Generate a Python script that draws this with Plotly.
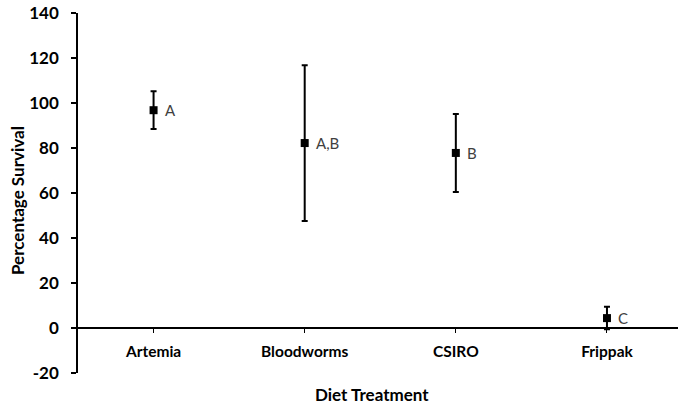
import plotly.graph_objects as go

# Survival by diet treatment (mean ± error) with significance groups
diets = ["Artemia", "Bloodworms", "CSIRO", "Frippak"]
survival = [96.8, 82.2, 77.8, 4.4]
error = [8.4, 34.6, 17.3, 5.0]
groups = ["A", "A,B", "B", "C"]

y_ticks = [-20, 0, 20, 40, 60, 80, 100, 120, 140]

FONT = "Lato, 'Open Sans', sans-serif"
BLACK = "#000000"
x_pos = list(range(len(diets)))

fig = go.Figure()
fig.add_trace(go.Scatter(
    x=x_pos, y=survival, mode="markers",
    marker=dict(symbol="square", size=8, color=BLACK),
    error_y=dict(type="data", array=error, visible=True,
                 color=BLACK, thickness=2, width=3),
    showlegend=False, hoverinfo="skip",
))

for xi, yi, g in zip(x_pos, survival, groups):
    fig.add_annotation(x=xi, y=yi, text=g, showarrow=False,
                       xanchor="left", yanchor="middle", xshift=9,
                       font=dict(family=FONT, size=15, color="#404040"))

fig.add_annotation(x=0.49, y=-0.061, xref="paper", yref="paper",
                   text="<b>Diet Treatment</b>", showarrow=False,
                   xanchor="center", yanchor="middle",
                   font=dict(family=FONT, size=17, color=BLACK))
fig.add_annotation(x=-0.102, y=0.48, xref="paper", yref="paper",
                   text="<b>Percentage Survival</b>", showarrow=False,
                   textangle=-90, xanchor="center", yanchor="middle",
                   font=dict(family=FONT, size=17, color=BLACK))

fig.update_layout(
    width=678, height=406,
    margin=dict(l=78, r=0, t=13, b=33),
    plot_bgcolor="white", paper_bgcolor="white",
    xaxis=dict(
        range=[-0.5, 3.47], tickmode="array", tickvals=x_pos,
        ticktext=[f"<b>{d}</b>" for d in diets],
        anchor="free", position=20 / 160,
        showline=True, linecolor=BLACK, linewidth=1.5,
        ticks="outside", ticklen=4, tickcolor=BLACK, tickwidth=1,
        ticklabelstandoff=6,
        showgrid=False, zeroline=False,
        tickfont=dict(family=FONT, size=15.5, color=BLACK),
    ),
    yaxis=dict(
        range=[-20, 140], tickmode="array", tickvals=y_ticks,
        ticktext=[f"<b>{v}</b>" for v in y_ticks],
        showline=True, linecolor=BLACK, linewidth=1.5,
        ticks="outside", ticklen=5, tickcolor=BLACK, tickwidth=1.5,
        ticklabelstandoff=9,
        showgrid=False, zeroline=False,
        tickfont=dict(family=FONT, size=17, color=BLACK),
    ),
)

fig.write_html("out.html")
